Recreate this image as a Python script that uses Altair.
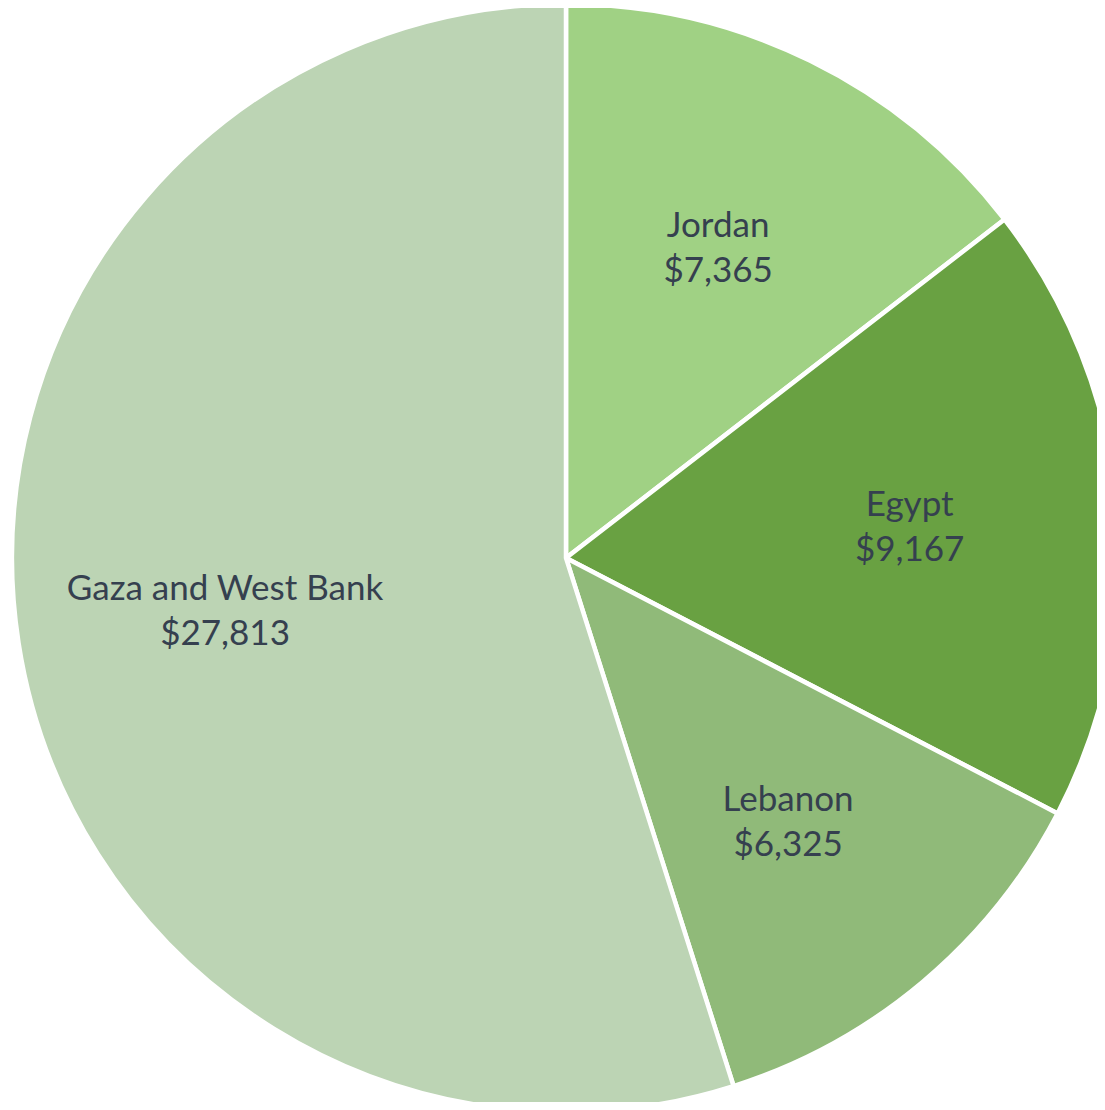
import altair as alt
import pandas as pd

countries = ["Jordan", "Egypt", "Lebanon", "Gaza and West Bank"]
values = [7365, 9167, 6325, 27813]
colors = ["#a0d184", "#69a142", "#90ba79", "#bcd4b4"]

df = pd.DataFrame({
    "country": countries,
    "value": values,
    "order": list(range(len(countries))),
})
df["label"] = [[c, "${:,}".format(v)] for c, v in zip(countries, values)]

base = alt.Chart(df).encode(
    theta=alt.Theta("value:Q", stack=True),
    order=alt.Order("order:Q"),
)

pie = base.mark_arc(outerRadius=554, stroke="white", strokeWidth=4.5).encode(
    color=alt.Color("country:N", scale=alt.Scale(domain=countries, range=colors), legend=None),
    x=alt.value(558),
    y=alt.value(550),
)

text = base.mark_text(radius=345, fontSize=35, font="Lato", color="#35404f",
                      lineHeight=45, baseline="middle", align="center", dy=-22).encode(
    text="label",
    x=alt.value(558),
    y=alt.value(550),
)

chart = (pie + text).properties(
    width=1089, height=1094,
    autosize=alt.AutoSizeParams(type="none"),
    padding=0,
).configure_view(stroke=None)

chart.save("out.html", embed_options={"renderer": "svg", "actions": False})
